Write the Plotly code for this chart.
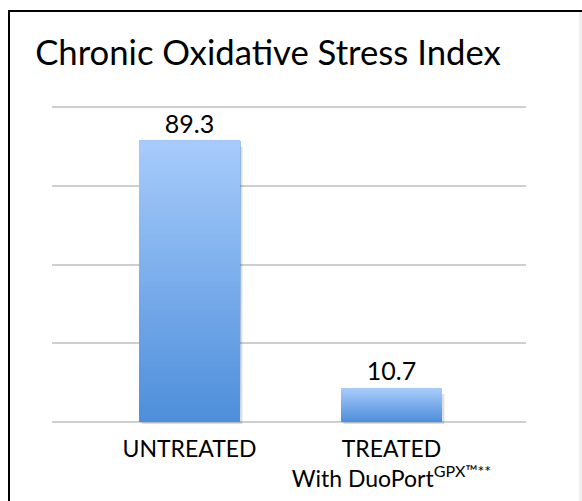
import plotly.graph_objects as go

# ---- data ----
categories = ["UNTREATED", "TREATED<br>With DuoPort<sup>GPX™**</sup>"]
values = [89.3, 10.7]
value_labels = ["89.3", "10.7"]
title_text = "Chronic Oxidative Stress Index"
grid_ticks = [0, 25, 50, 75, 100]

FONT = "Lato, Carlito, Calibri, sans-serif"
W, H = 582, 501
L, R, T, B = 52, 56, 105, 77
PAD_UNITS = 0.635  # small extra range so edge gridlines are drawn

top_rgb = (168, 204, 252)
bot_rgb = (78, 143, 219)
N = 60

fig = go.Figure()

# soft shadow behind bars
fig.add_trace(go.Bar(
    x=categories, y=[v - 0.6 for v in values], base=[-1.3] * len(values),
    width=0.5, offset=-0.25 + 0.012,
    marker=dict(color="rgba(0,0,0,0.13)", line=dict(width=0)),
    hoverinfo="skip", showlegend=False, cliponaxis=False,
))

# gradient bars: stacked layers from base fraction to the full value
xs, bases, ys, cols = [], [], [], []
for c, v in zip(categories, values):
    for k in range(N):
        f = k / N
        b = v * f
        rgb = tuple(round(bot_rgb[i] + (top_rgb[i] - bot_rgb[i]) * f) for i in range(3))
        xs.append(c)
        bases.append(b)
        ys.append(v - b)
        cols.append("rgb(%d,%d,%d)" % rgb)
fig.add_trace(go.Bar(
    x=xs, y=ys, base=bases, width=0.5,
    marker=dict(color=cols, line=dict(width=0)),
    hoverinfo="skip", showlegend=False,
))

# value labels
fig.add_trace(go.Bar(
    x=categories, y=values, width=0.5,
    marker=dict(color="rgba(0,0,0,0)", line=dict(width=0)),
    text=value_labels, textposition="outside",
    textfont=dict(family=FONT, size=25, color="#000000"),
    showlegend=False, cliponaxis=False,
))

PW = W - L - R
PH = H - T - B


def px_x(x):
    return (x - L) / PW


def px_y(y):
    return (H - B - y) / PH


shapes = [
    dict(type="line", xref="paper", yref="paper",
         x0=px_x(9), x1=px_x(9), y0=px_y(10), y1=px_y(H + 2),
         line=dict(color="#000000", width=2)),
    dict(type="line", xref="paper", yref="paper",
         x0=px_x(8), x1=px_x(W + 2), y0=px_y(11), y1=px_y(11),
         line=dict(color="#000000", width=2)),
    dict(type="line", xref="paper", yref="paper",
         x0=px_x(580.5), x1=px_x(580.5), y0=px_y(12), y1=px_y(H + 2),
         line=dict(color="#f0f0f0", width=3)),
]

fig.update_layout(
    width=W, height=H,
    margin=dict(l=L, r=R, t=T, b=B, pad=0, autoexpand=False),
    paper_bgcolor="white", plot_bgcolor="white",
    barmode="overlay",
    showlegend=False,
    title=dict(text=title_text, x=268 / W, xanchor="center",
               y=1 - 53 / H, yanchor="middle", xref="container", yref="container",
               font=dict(family=FONT, size=34.7, color="#000000"), automargin=False),
    xaxis=dict(type="category", range=[-0.681, 1.666], automargin=False,
               showgrid=False, showline=False, zeroline=False, ticks="",
               tickfont=dict(family=FONT, size=23, color="#000000"),
               ticklabelstandoff=9, fixedrange=True),
    yaxis=dict(range=[-PAD_UNITS, 100 + PAD_UNITS], tickvals=grid_ticks, showticklabels=False,
               automargin=False,
               showgrid=True, gridcolor="#cfcfcf", gridwidth=2,
               zeroline=False, showline=False, ticks="", fixedrange=True),
    shapes=shapes,
)

fig.write_html("out.html", config={"displayModeBar": False},
               post_script="document.body.style.margin='0';")
